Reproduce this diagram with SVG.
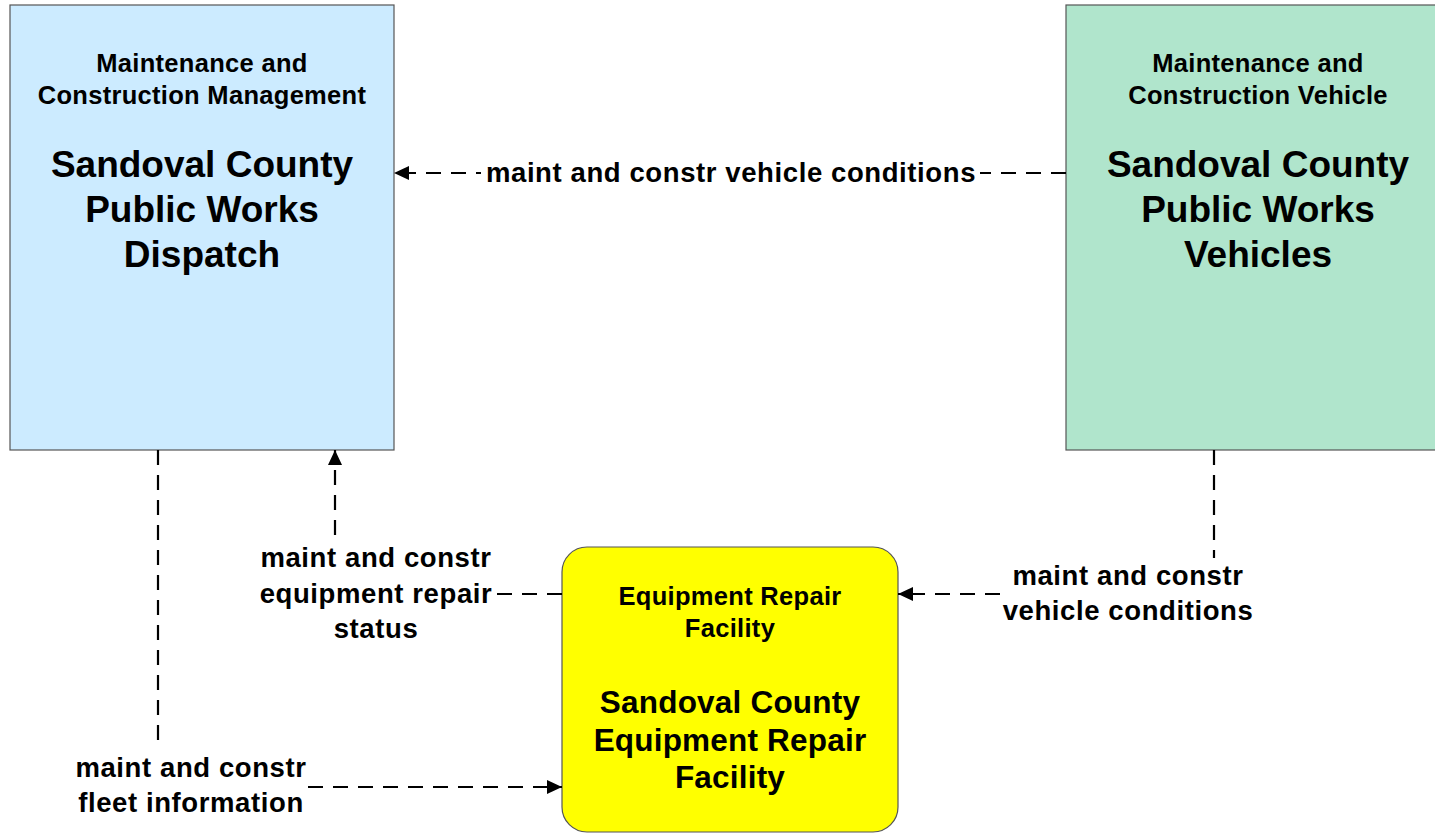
<svg xmlns="http://www.w3.org/2000/svg" width="1435" height="833" viewBox="0 0 1435 833">
<style>
.box{stroke:#555;stroke-width:1.2}
.hd{font-family:"Liberation Sans",Arial,sans-serif;font-weight:bold;font-size:25.5px;letter-spacing:0.3px;text-anchor:middle;fill:#000}
.tt{font-family:"Liberation Sans",Arial,sans-serif;font-weight:bold;font-size:37px;text-anchor:middle;fill:#000}
.ty{font-family:"Liberation Sans",Arial,sans-serif;font-weight:bold;font-size:31.5px;letter-spacing:0.2px;text-anchor:middle;fill:#000}
.lb{font-family:"Liberation Sans",Arial,sans-serif;font-weight:bold;font-size:27.5px;letter-spacing:0.6px;text-anchor:middle;fill:#000}
.ln{fill:none;stroke:#000;stroke-width:2.2;stroke-dasharray:15 10}
</style>
<defs>
<marker id="ah" viewBox="0 0 15 14" refX="15" refY="7" markerWidth="15" markerHeight="14" markerUnits="userSpaceOnUse" orient="auto">
<path d="M0,0 L15,7 L0,14 z" fill="#000"/>
</marker>
</defs>
<rect width="1435" height="833" fill="#fff"/>
<g id="node-dispatch">
<rect class="box" x="10" y="5" width="384" height="445" fill="#CCEBFF"/>
<text class="hd" x="202" y="72">Maintenance and</text>
<text class="hd" x="202" y="104">Construction Management</text>
<text class="tt" x="202" y="177">Sandoval County</text>
<text class="tt" x="202" y="222">Public Works</text>
<text class="tt" x="202" y="267">Dispatch</text>
</g>
<g id="node-vehicles">
<rect class="box" x="1066" y="5" width="384" height="445" fill="#B0E5CC"/>
<text class="hd" x="1258" y="72">Maintenance and</text>
<text class="hd" x="1258" y="104">Construction Vehicle</text>
<text class="tt" x="1258" y="177">Sandoval County</text>
<text class="tt" x="1258" y="222">Public Works</text>
<text class="tt" x="1258" y="267">Vehicles</text>
</g>
<g id="node-repair">
<rect class="box" x="562" y="547" width="336" height="285" rx="25" ry="25" fill="#FFFF00"/>
<text class="hd" x="730" y="605">Equipment Repair</text>
<text class="hd" x="730" y="637">Facility</text>
<text class="ty" x="730" y="713">Sandoval County</text>
<text class="ty" x="730" y="751">Equipment Repair</text>
<text class="ty" x="730" y="788">Facility</text>
</g>
<g id="connectors">
<path class="ln" d="M1066,173 L394,173" marker-end="url(#ah)"/>
<rect x="481" y="158" width="499" height="30" fill="#fff"/>
<text class="lb" x="731" y="182">maint and constr vehicle conditions</text>

<path class="ln" d="M562,594 L497,594"/>
<path class="ln" d="M335,535 L335,450" marker-end="url(#ah)"/>
<text class="lb" x="376" y="567">maint and constr</text>
<text class="lb" x="376" y="603">equipment repair</text>
<text class="lb" x="376" y="638">status</text>

<path class="ln" d="M158,450 L158,750"/>
<path class="ln" d="M308,787 L562,787" marker-end="url(#ah)"/>
<text class="lb" x="191" y="777">maint and constr</text>
<text class="lb" x="191" y="812">fleet information</text>

<path class="ln" d="M1214,450 L1214,558"/>
<path class="ln" d="M1000,594 L898,594" marker-end="url(#ah)"/>
<text class="lb" x="1128" y="585">maint and constr</text>
<text class="lb" x="1128" y="620">vehicle conditions</text>
</g>
</svg>
